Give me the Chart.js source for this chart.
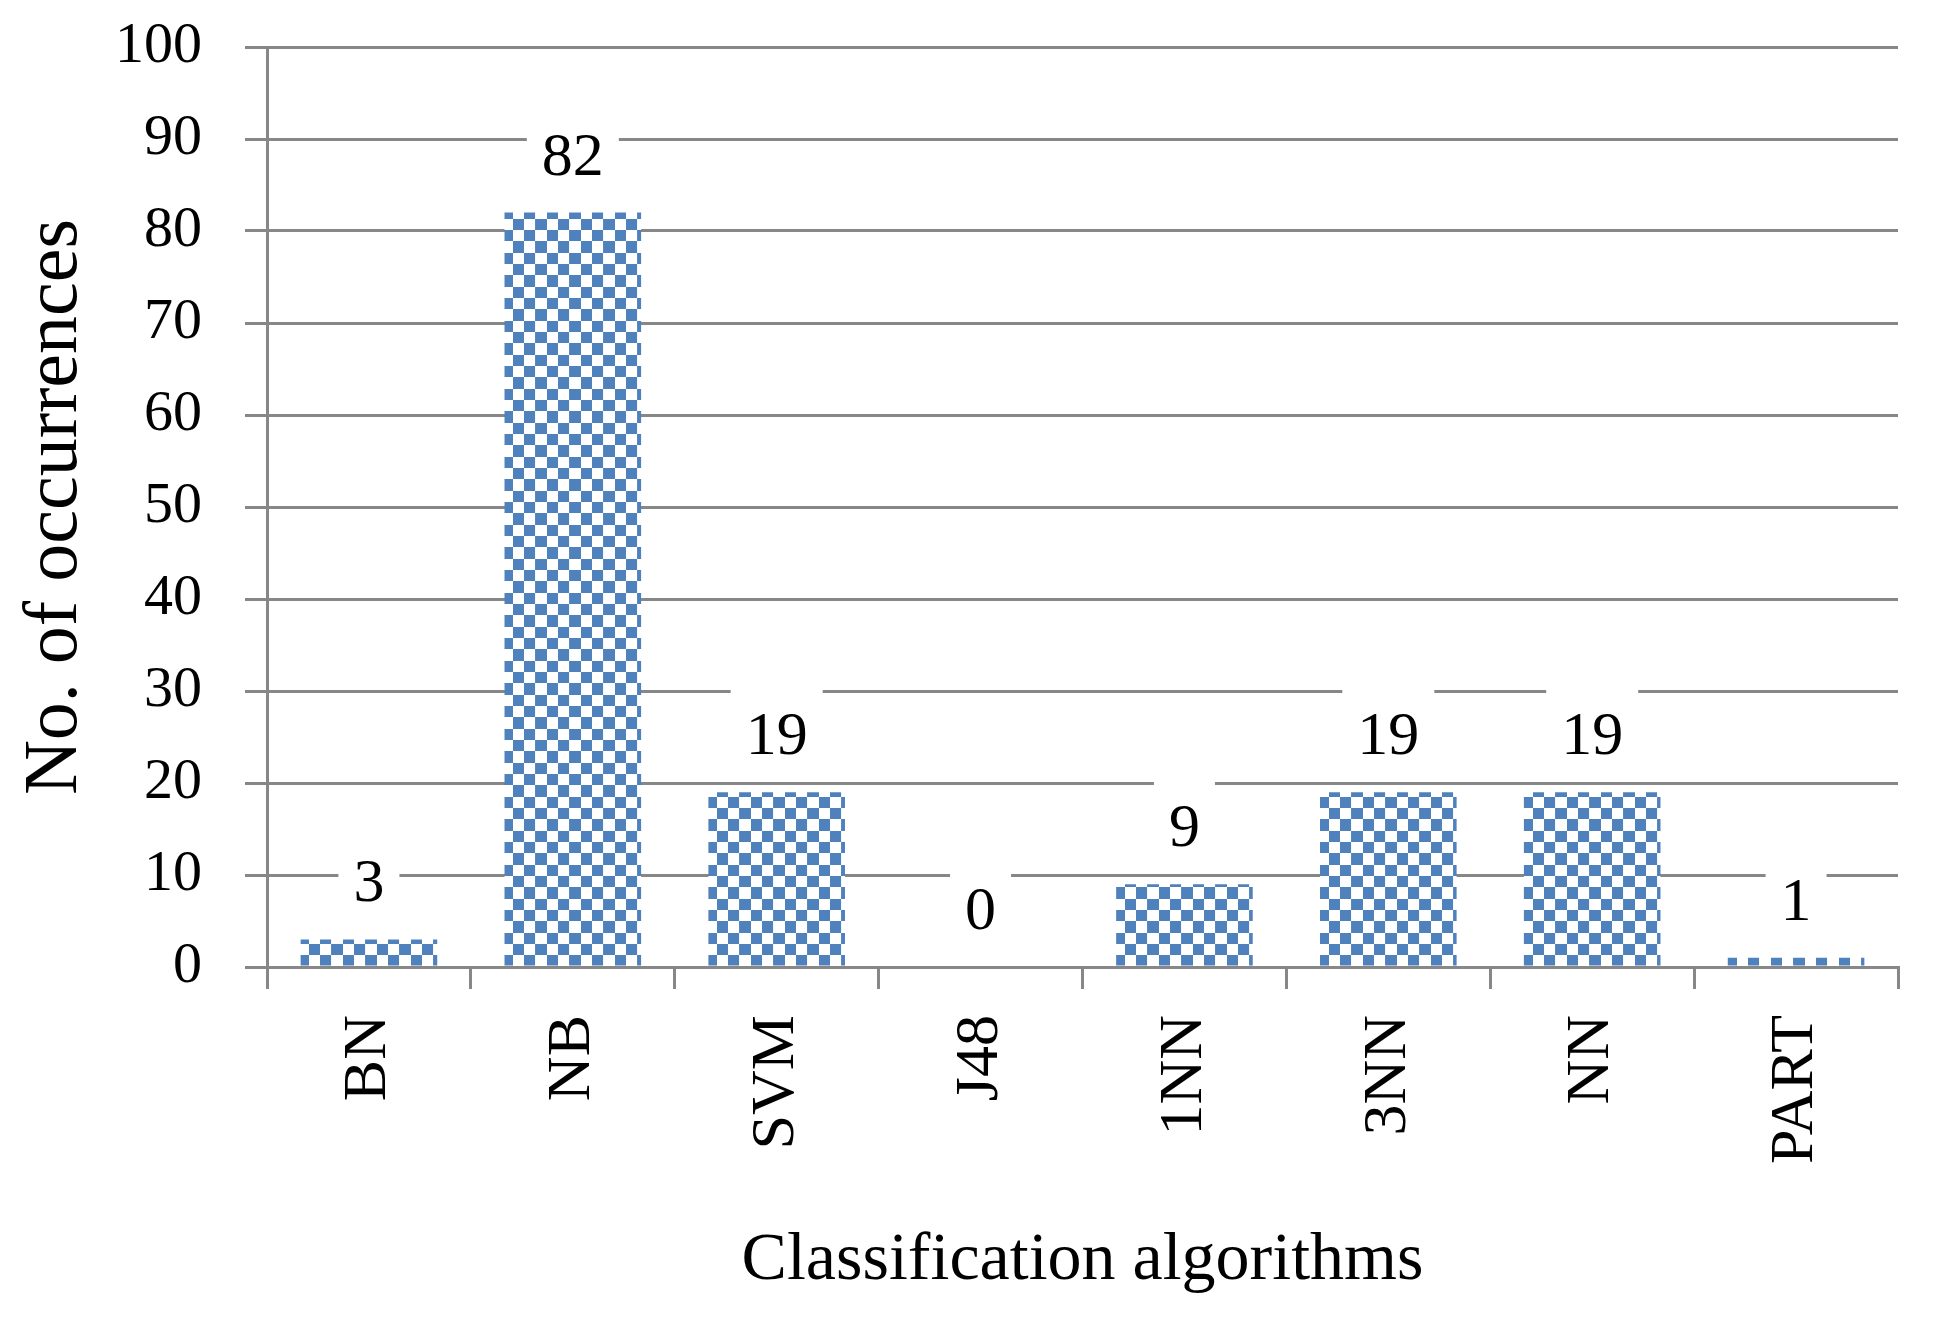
<!DOCTYPE html>
<html>
<head>
<meta charset="utf-8">
<script src="https://cdn.jsdelivr.net/npm/chart.js@4/dist/chart.umd.min.js"></script>
<style>
  html, body { margin: 0; padding: 0; background: #ffffff; }
  #wrap { width: 1938px; height: 1324px; }
</style>
</head>
<body>
<div id="wrap"><canvas id="c" width="1938" height="1324"></canvas></div>
<script>
// ---- data ----
const categories = ['BN', 'NB', 'SVM', 'J48', '1NN', '3NN', 'NN', 'PART'];
const occurrences = [3, 82, 19, 0, 9, 19, 19, 1];
const yMin = 0;
const yMax = 100;
const yStep = 10;
const xTitle = 'Classification algorithms';
const yTitle = 'No. of occurrences';

// ---- styles ----
const FONT = "'Liberation Serif', 'Times New Roman', serif";
const GRID = '#878787';
const BLUE = '#4F81BD';

// checkerboard pattern fill
function makePattern(ctx) {
  const pc = document.createElement('canvas');
  pc.width = 68; pc.height = 68;
  const p = pc.getContext('2d');
  p.fillStyle = '#ffffff';
  p.fillRect(0, 0, 68, 68);
  p.fillStyle = BLUE;
  p.fillRect(0, 0, 34, 34);
  p.fillRect(34, 34, 34, 34);
  const pat = ctx.createPattern(pc, 'repeat');
  if (pat.setTransform) {
    pat.setTransform(new DOMMatrix().translate(2.67, 3.33).scale(1 / 3));
  }
  return pat;
}

const canvas = document.getElementById('c');
const ctx = canvas.getContext('2d');
const pattern = makePattern(ctx);

const valueLabels = {
  id: 'valueLabels',
  afterDatasetsDraw(chart) {
    const c = chart.ctx;
    const meta = chart.getDatasetMeta(0);
    c.save();
    c.font = '62px ' + FONT;
    c.textAlign = 'center';
    c.textBaseline = 'alphabetic';
    meta.data.forEach((bar, i) => {
      const txt = String(occurrences[i]);
      const cy = bar.y - 59;
      const w = c.measureText(txt).width + 30;
      c.fillStyle = '#ffffff';
      c.fillRect(bar.x - w / 2, cy - 46, w, 86);
      c.fillStyle = '#000000';
      c.fillText(txt, bar.x, cy + 21);
    });
    c.restore();
  }
};

new Chart(ctx, {
  type: 'bar',
  data: {
    labels: categories,
    datasets: [{
      data: occurrences,
      backgroundColor: pattern,
      borderWidth: 0,
      categoryPercentage: 1.0,
      barPercentage: 0.67
    }]
  },
  options: {
    responsive: false,
    animation: false,
    events: [],
    layout: { padding: { top: 47, right: 40, bottom: 0, left: 0 } },
    plugins: {
      legend: { display: false },
      tooltip: { enabled: false },
      title: { display: false }
    },
    scales: {
      x: {
        grid: {
          offset: true,
          drawOnChartArea: false,
          drawTicks: true,
          tickLength: 22,
          color: GRID,
          lineWidth: 3
        },
        border: { display: true, color: GRID, width: 3 },
        ticks: {
          autoSkip: false,
          maxRotation: 90,
          minRotation: 90,
          padding: 26,
          color: '#000000',
          font: { family: FONT, size: 62 }
        },
        title: {
          display: true,
          text: xTitle,
          color: '#000000',
          font: { family: FONT, size: 68 },
          padding: { top: 0, bottom: 22 }
        },
        afterFit(scale) {
          scale.height = 357;
          scale.paddingLeft = 0;
          scale.paddingRight = 0;
        }
      },
      y: {
        min: yMin,
        max: yMax,
        grid: {
          drawTicks: true,
          tickLength: 22,
          color: GRID,
          lineWidth: 3
        },
        border: { display: true, color: GRID, width: 3 },
        ticks: {
          stepSize: yStep,
          padding: 43,
          color: '#000000',
          font: { family: FONT, size: 58 }
        },
        title: {
          display: true,
          text: yTitle,
          color: '#000000',
          font: { family: FONT, size: 76 },
          padding: { top: 10, bottom: 0 }
        },
        afterFit(scale) {
          scale.width = 267;
          scale.paddingTop = 0;
          scale.paddingBottom = 0;
        }
      }
    }
  },
  plugins: [valueLabels]
});
</script>
</body>
</html>
